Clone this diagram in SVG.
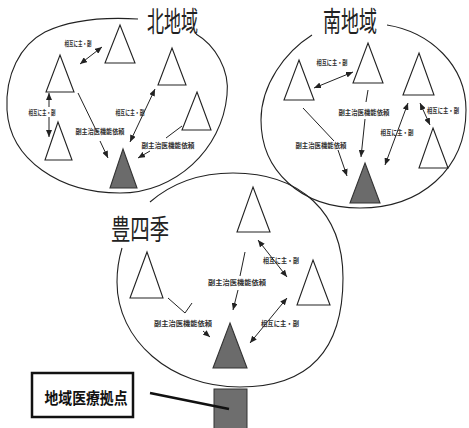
<svg xmlns="http://www.w3.org/2000/svg" width="469" height="428" viewBox="0 0 469 428">
<style>
.bg{fill:#ffffff}
.region{fill:none;stroke:#222;stroke-width:1.1}
.tri{fill:#ffffff;stroke:#222;stroke-width:1.1}
.hub{fill:#6b6b6b;stroke:#333;stroke-width:1.1}
.conn{stroke:#222;stroke-width:1;fill:none}
.sm{font-family:"Noto Sans CJK JP","Noto Sans CJK SC",sans-serif;font-size:7px;font-weight:bold;fill:#333;text-anchor:middle}
.big{font-family:"Noto Sans CJK JP","Noto Sans CJK SC",sans-serif;font-size:28px;fill:#222;text-anchor:middle}
.box{fill:#fff;stroke:#111;stroke-width:2.5}
.boxt{font-family:"Noto Sans CJK JP","Noto Sans CJK SC",sans-serif;font-size:16px;font-weight:bold;fill:#111;text-anchor:middle}
</style>
<defs>
<marker id="ah" markerUnits="userSpaceOnUse" markerWidth="7" markerHeight="6" refX="7" refY="3" orient="auto-start-reverse">
<path d="M0,0 L7,3 L0,6 z" fill="#222"/>
</marker>
</defs>
<rect class="bg" x="0" y="0" width="469" height="428"/>

<g id="region-north">
<path class="region" d="M196,34 C215,45 230,70 227,95 C222,150 175,193 120,193 C60,193 10,160 7,110 C5,75 20,45 45,32 C70,20 105,17 138,19"/>
<text class="big" x="172.5" y="32" textLength="51" lengthAdjust="spacingAndGlyphs">北地域</text>
</g>
<g id="region-south">
<path class="region" d="M387,25 C430,32 466,65 466,110 C466,170 420,208 360,208 C300,208 261,170 261,120 C261,85 285,52 312,35"/>
<text class="big" x="350" y="32" textLength="54" lengthAdjust="spacingAndGlyphs">南地域</text>
</g>
<g id="region-toyoshiki">
<path class="region" d="M150,202 C172,183 200,173 233,173 C300,173 343,212 343,278 C343,355 305,387 240,387 C170,387 117,340 117,282 C117,270 119,258 122,248"/>
<text class="big" x="140" y="240" textLength="58" lengthAdjust="spacingAndGlyphs">豊四季</text>
</g>

<g id="n-t1"><polygon class="tri" points="120,25 135,63 105,63"/></g>
<g id="n-t2"><polygon class="tri" points="60,55 74,92 46,92"/></g>
<g id="n-t3"><polygon class="tri" points="58,122 72,160 45,160"/></g>
<g id="n-t4"><polygon class="tri" points="172,48 186,85 158,85"/></g>
<g id="n-t5"><polygon class="tri" points="197,92 211,130 182,130"/></g>
<g id="n-hub"><polygon class="hub" points="123,149 137,188 110,188"/></g>

<g id="s-t1"><polygon class="tri" points="299,60 314,100 284,100"/></g>
<g id="s-t2"><polygon class="tri" points="368,43 383,83 353,83"/></g>
<g id="s-t3"><polygon class="tri" points="419,53 434,95 403,95"/></g>
<g id="s-t4"><polygon class="tri" points="433,128 448,168 419,168"/></g>
<g id="s-hub"><polygon class="hub" points="365,163 380,203 350,203"/></g>

<g id="t-t1"><polygon class="tri" points="253,187 270,232 237,232"/></g>
<g id="t-t2"><polygon class="tri" points="147,252 163,298 130,298"/></g>
<g id="t-t3"><polygon class="tri" points="313,260 330,305 297,305"/></g>
<g id="t-hub"><polygon class="hub" points="230,323 247,368 213,368"/></g>

<g id="base">
<rect class="box" x="32" y="373" width="101" height="44"/>
<text class="boxt" x="86" y="404" textLength="83" lengthAdjust="spacingAndGlyphs">地域医療拠点</text>
<rect x="214" y="389" width="33" height="42" fill="#6e6e6e" stroke="#333" stroke-width="1"/>
</g>

<g id="connectors">
<line class="conn" x1="80" y1="64" x2="102" y2="47" marker-start="url(#ah)" marker-end="url(#ah)"/>
<line class="conn" x1="49" y1="107" x2="49" y2="93" marker-end="url(#ah)"/>
<line class="conn" x1="49" y1="117" x2="49" y2="137" marker-end="url(#ah)"/>
<line class="conn" x1="78" y1="93" x2="97" y2="132"/>
<line class="conn" x1="100" y1="141" x2="108" y2="158" marker-end="url(#ah)"/>
<line class="conn" x1="155" y1="89" x2="130" y2="142" marker-start="url(#ah)" marker-end="url(#ah)"/>
<line class="conn" x1="182" y1="126" x2="166" y2="138"/>
<line class="conn" x1="150" y1="151" x2="138" y2="158" marker-end="url(#ah)"/>

<line class="conn" x1="314" y1="88" x2="353" y2="72" marker-start="url(#ah)" marker-end="url(#ah)"/>
<line class="conn" x1="303" y1="108" x2="334" y2="141"/>
<line class="conn" x1="338" y1="150" x2="347" y2="176" marker-end="url(#ah)"/>
<line class="conn" x1="368" y1="90" x2="366" y2="102"/>
<line class="conn" x1="365" y1="119" x2="361" y2="157" marker-end="url(#ah)"/>
<line class="conn" x1="408" y1="103" x2="385" y2="165" marker-start="url(#ah)" marker-end="url(#ah)"/>
<line class="conn" x1="420" y1="103" x2="430" y2="125" marker-start="url(#ah)" marker-end="url(#ah)"/>

<line class="conn" x1="258" y1="240" x2="287" y2="277" marker-start="url(#ah)" marker-end="url(#ah)"/>
<line class="conn" x1="245" y1="252" x2="240" y2="276"/>
<line class="conn" x1="238" y1="290" x2="233" y2="310" marker-end="url(#ah)"/>
<line class="conn" x1="168" y1="298" x2="185" y2="313"/>
<line class="conn" x1="185" y1="313" x2="192" y2="303"/>
<line class="conn" x1="203" y1="331" x2="210" y2="337" marker-end="url(#ah)"/>
<line class="conn" x1="287" y1="298" x2="250" y2="343" marker-start="url(#ah)" marker-end="url(#ah)"/>

<line x1="150" y1="393" x2="229" y2="409" stroke="#111" stroke-width="2.5"/>
</g>

<g id="labels">
<text class="sm" x="78" y="46" textLength="27" lengthAdjust="spacingAndGlyphs">相互に主・副</text>
<text class="sm" x="42" y="115" textLength="27" lengthAdjust="spacingAndGlyphs">相互に主・副</text>
<text class="sm" x="100" y="134" textLength="49" lengthAdjust="spacingAndGlyphs">副主治医機能依頼</text>
<text class="sm" x="130" y="115" textLength="29" lengthAdjust="spacingAndGlyphs">相互に主・副</text>
<text class="sm" x="168" y="148" textLength="53" lengthAdjust="spacingAndGlyphs">副主治医機能依頼</text>

<text class="sm" x="332" y="65" textLength="31" lengthAdjust="spacingAndGlyphs">相互に主・副</text>
<text class="sm" x="364" y="115" textLength="51" lengthAdjust="spacingAndGlyphs">副主治医機能依頼</text>
<text class="sm" x="321" y="148" textLength="51" lengthAdjust="spacingAndGlyphs">副主治医機能依頼</text>
<text class="sm" x="397" y="135" textLength="33" lengthAdjust="spacingAndGlyphs">相互に主・副</text>
<text class="sm" x="443" y="113" textLength="32" lengthAdjust="spacingAndGlyphs">相互に主・副</text>

<text class="sm" x="281" y="263" textLength="36" lengthAdjust="spacingAndGlyphs">相互に主・副</text>
<text class="sm" x="237" y="285" textLength="58" lengthAdjust="spacingAndGlyphs">副主治医機能依頼</text>
<text class="sm" x="183" y="326" textLength="58" lengthAdjust="spacingAndGlyphs">副主治医機能依頼</text>
<text class="sm" x="280" y="326" textLength="38" lengthAdjust="spacingAndGlyphs">相互に主・副</text>
</g>
</svg>
